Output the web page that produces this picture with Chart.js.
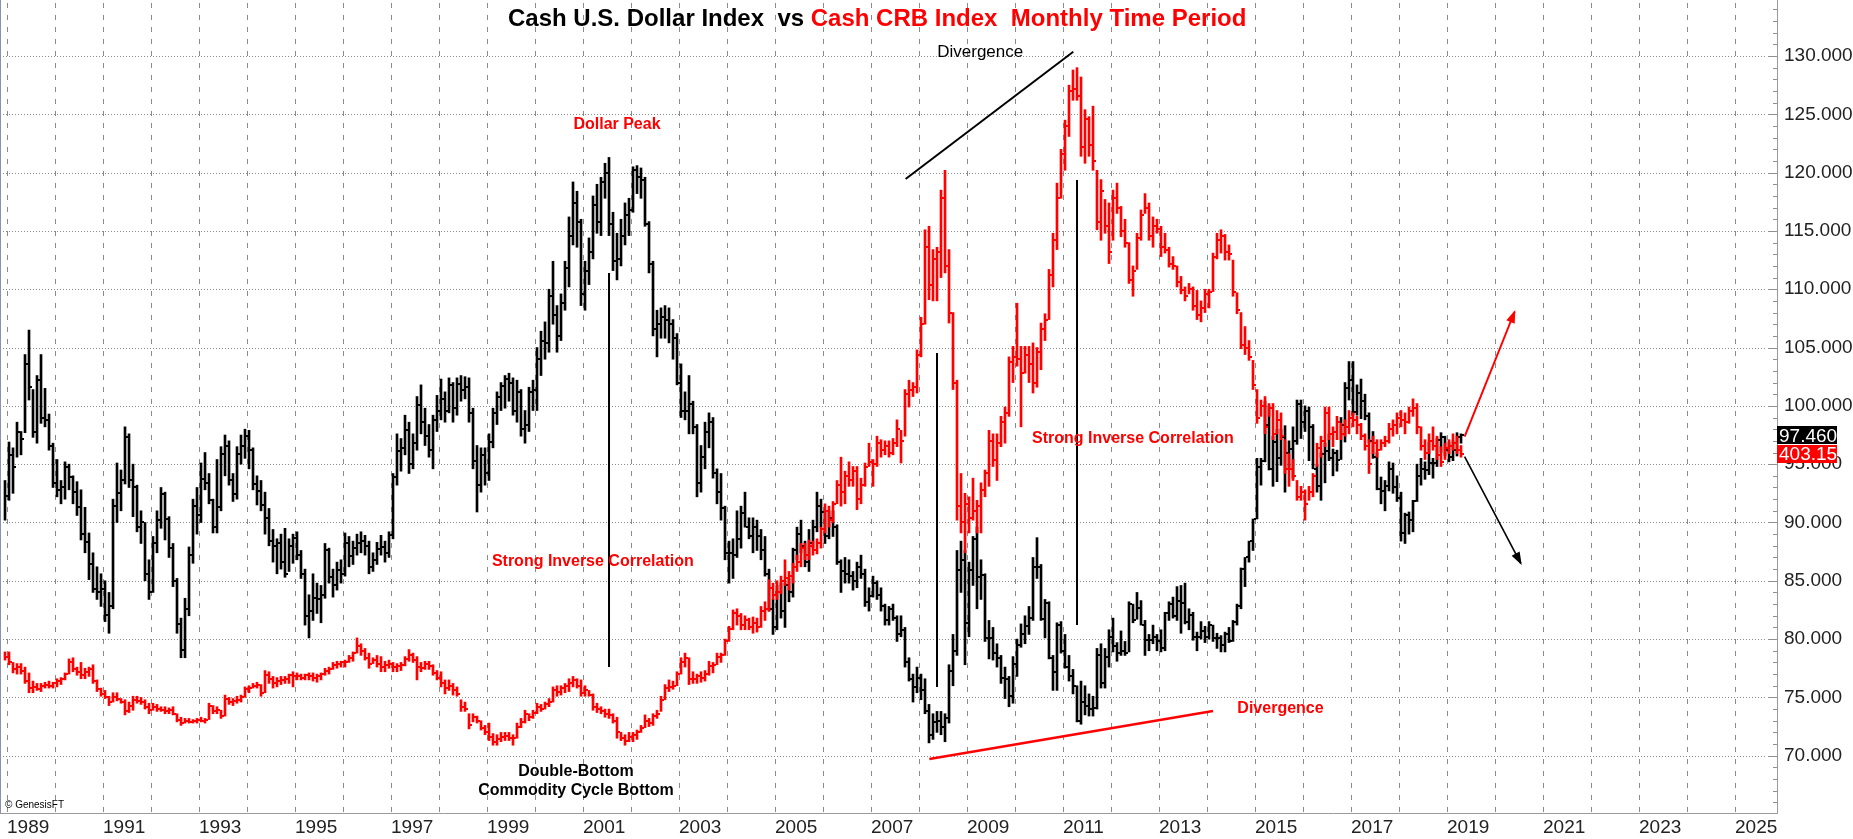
<!DOCTYPE html>
<html>
<head>
<meta charset="utf-8">
<title>Cash U.S. Dollar Index vs Cash CRB Index</title>
<script src="https://cdn.jsdelivr.net/npm/chart.js@4.4.1/dist/chart.umd.min.js"></script>
<style>
  html, body { margin: 0; padding: 0; background: #fff; }
  canvas { display: block; }
</style>
</head>
<body>
<canvas id="chart" width="1853" height="839"></canvas>
<script>
// Monthly bars: first bar is Dec 1988, last bar is Apr 2019
const firstYear = 1988;
const firstMonth = 11; // 0-based, December

// Cash U.S. Dollar Index (black), monthly high / low / close
const usdHigh = [
  93.6,
  96.9, 96.4, 98.6, 97.8, 104.4, 106.5, 101.4, 102.6, 104.4, 101.5, 99.3, 96.8,  // 1989
  95.4, 93.6, 95.2, 95.0, 94.0, 93.5, 92.8, 91.3, 89.1, 87.4, 86.2, 85.6,        // 1990
  85.0, 84.0, 92.0, 95.1, 94.5, 98.2, 97.6, 95.0, 93.2, 91.0, 90.0, 86.8,        // 1991
  88.8, 91.0, 93.0, 92.6, 90.5, 88.2, 85.2, 81.8, 83.5, 87.9, 92.0, 93.0,        // 1992
  95.1, 96.0, 94.2, 92.0, 95.4, 96.5, 97.5, 97.0, 94.2, 96.5, 97.5, 98.0,        // 1993
  97.9, 96.4, 94.0, 93.6, 92.6, 91.2, 89.4, 88.6, 89.0, 89.5, 88.6, 89.0,        // 1994
  89.2, 87.6, 86.0, 83.8, 85.6, 84.8, 84.6, 88.2, 87.8, 86.0, 86.6, 86.8,        // 1995
  89.1, 88.8, 88.4, 89.0, 89.2, 88.9, 88.4, 87.4, 88.3, 88.9, 88.4, 89.2,        // 1996
  94.2, 97.6, 97.2, 99.2, 98.6, 97.6, 100.8, 101.8, 99.8, 98.4, 99.2, 100.9,     // 1997
  102.3, 101.2, 102.4, 102.0, 102.4, 102.6, 102.5, 102.4, 99.8, 96.6, 96.4, 96.4, // 1998
  97.6, 99.8, 101.2, 102.0, 102.6, 102.8, 102.4, 102.2, 101.4, 99.6, 101.6, 102.2, // 1999
  105.0, 106.4, 107.2, 110.0, 112.4, 108.6, 109.6, 112.4, 116.2, 119.2, 118.4, 116.0, // 2000
  112.4, 114.4, 118.0, 119.0, 119.6, 120.8, 121.3, 116.6, 114.8, 116.0, 117.4, 117.8, // 2001
  120.5, 120.6, 120.4, 119.6, 115.8, 112.4, 108.2, 108.4, 108.6, 108.4, 107.4, 106.2, // 2002
  103.6, 101.2, 102.6, 100.4, 98.4, 96.6, 98.6, 99.4, 99.0, 94.6, 94.2, 91.4,    // 2003
  88.4, 88.6, 91.0, 91.4, 92.6, 90.4, 90.4, 90.2, 89.4, 88.8, 86.0, 83.4,        // 2004
  84.6, 84.8, 84.8, 85.2, 87.8, 89.6, 90.2, 88.4, 89.4, 90.2, 92.6, 92.0,        // 2005
  91.0, 91.0, 91.0, 89.8, 86.8, 87.0, 86.8, 85.8, 86.6, 87.2, 86.0, 84.4,        // 2006
  85.4, 85.0, 84.4, 83.0, 82.8, 83.0, 82.0, 82.0, 81.0, 78.4, 77.0, 77.6,        // 2007
  77.0, 76.6, 74.4, 73.6, 73.8, 73.8, 73.6, 77.8, 80.4, 87.6, 88.4, 87.6,        // 2008
  86.6, 88.8, 89.6, 86.8, 85.6, 81.6, 81.0, 79.6, 78.6, 77.6, 76.8, 78.5,        // 2009
  80.0, 81.3, 82.0, 82.8, 87.0, 88.7, 86.4, 83.4, 83.2, 78.6, 81.4, 81.5,        // 2010
  80.4, 78.6, 77.4, 76.0, 76.4, 76.0, 75.3, 75.1, 79.2, 79.6, 79.2, 80.8,        // 2011
  81.8, 79.7, 80.7, 79.8, 83.2, 83.0, 84.0, 83.3, 81.6, 80.4, 81.2, 80.4,        // 2012
  80.8, 82.3, 83.2, 83.6, 84.5, 84.6, 84.8, 82.6, 82.3, 80.6, 81.5, 81.1,        // 2013
  81.5, 81.2, 80.5, 80.3, 80.6, 81.0, 81.6, 83.0, 86.1, 87.0, 88.4, 90.3,        // 2014
  95.5, 95.5, 100.4, 100.0, 97.4, 98.0, 98.0, 98.3, 97.0, 98.2, 100.5, 100.5,    // 2015
  100.0, 99.9, 98.4, 95.0, 96.0, 96.8, 97.6, 96.3, 96.2, 99.0, 102.0, 103.8,     // 2016
  103.8, 101.8, 102.3, 101.0, 99.4, 97.8, 96.0, 93.9, 93.6, 95.2, 95.1, 94.0,    // 2017
  92.6, 90.8, 90.9, 91.9, 95.0, 95.5, 95.2, 96.9, 95.5, 97.2, 97.7, 97.4,        // 2018
  96.9, 97.0, 97.7, 97.6                                                          // 2019
];
const usdLow = [
  90.2,
  91.9, 92.5, 95.6, 95.8, 97.7, 100.5, 97.3, 96.8, 98.5, 98.2, 96.2, 93.0,
  92.2, 91.6, 92.0, 92.8, 91.6, 90.6, 88.5, 87.4, 85.1, 84.0, 83.4, 82.8,
  81.5, 80.5, 82.6, 90.0, 91.0, 93.3, 93.0, 90.5, 89.2, 88.2, 85.0, 83.4,
  84.0, 87.4, 89.5, 88.5, 87.0, 84.5, 80.5, 78.4, 78.4, 82.0, 86.5, 89.0,
  90.0, 92.8, 91.6, 89.1, 89.1, 91.0, 94.0, 93.2, 91.8, 92.0, 95.0, 95.5,
  94.6, 92.8, 91.5, 91.0, 89.0, 88.0, 86.6, 85.6, 86.0, 85.3, 85.8, 86.5,
  86.8, 85.2, 81.2, 80.1, 81.6, 82.2, 81.4, 83.5, 84.8, 83.6, 84.2, 84.8,
  85.4, 86.2, 86.4, 87.2, 87.4, 87.2, 85.6, 85.8, 86.4, 87.2, 86.6, 87.0,
  88.6, 93.2, 94.4, 95.8, 94.2, 94.6, 96.2, 97.6, 96.6, 95.6, 94.6, 97.8,
  98.8, 98.6, 99.4, 98.6, 99.2, 100.4, 100.6, 98.6, 94.6, 90.9, 92.6, 93.2,
  93.6, 96.4, 98.4, 99.6, 99.8, 100.4, 99.2, 98.6, 97.4, 96.8, 97.8, 99.6,
  99.6, 102.6, 104.0, 104.6, 107.0, 104.6, 105.6, 108.2, 110.2, 113.8, 113.6, 108.6,
  108.2, 110.4, 112.6, 114.8, 114.6, 117.8, 114.6, 111.6, 110.8, 112.0, 113.8, 114.6,
  116.6, 118.2, 117.8, 115.4, 111.4, 106.0, 104.2, 105.8, 105.8, 105.4, 104.0, 101.8,
  99.0, 98.8, 97.6, 97.6, 92.2, 92.6, 94.6, 96.4, 93.8, 91.6, 90.2, 86.8,
  84.8, 85.2, 87.0, 87.8, 89.6, 88.6, 87.4, 87.6, 86.8, 85.4, 82.4, 80.4,
  80.8, 81.8, 81.0, 83.2, 83.6, 86.8, 87.4, 86.2, 85.8, 87.8, 89.2, 89.6,
  88.2, 88.6, 88.8, 86.4, 84.0, 84.8, 84.8, 84.2, 84.4, 85.2, 82.8, 82.4,
  83.6, 83.4, 82.4, 81.2, 81.2, 81.6, 79.8, 80.2, 77.6, 76.4, 74.6, 75.4,
  74.8, 73.6, 71.1, 71.4, 72.0, 71.8, 71.2, 72.8, 76.0, 78.6, 84.0, 77.8,
  80.2, 84.6, 82.6, 83.4, 79.8, 78.3, 78.2, 77.6, 76.2, 74.9, 74.2, 74.5,
  76.8, 79.3, 79.6, 80.4, 81.6, 85.2, 81.6, 80.1, 78.3, 75.6, 75.6, 78.8,
  77.5, 76.4, 75.3, 72.9, 72.7, 73.5, 73.4, 73.4, 74.0, 75.8, 75.8, 77.6,
  78.9, 78.1, 78.6, 78.6, 78.9, 81.4, 81.7, 81.2, 78.6, 79.0, 79.6, 79.0,
  78.9, 79.0, 81.6, 81.8, 81.6, 80.5, 81.3, 80.8, 79.9, 79.0, 80.0, 79.7,
  80.0, 79.8, 79.2, 78.9, 78.9, 79.7, 79.8, 81.2, 82.6, 84.5, 86.6, 87.6,
  90.3, 93.2, 95.2, 94.5, 93.1, 93.5, 94.9, 92.6, 94.6, 93.8, 96.7, 97.2,
  97.8, 95.3, 94.6, 92.6, 91.9, 93.4, 95.3, 94.0, 94.4, 95.4, 96.9, 100.5,
  99.2, 99.2, 98.9, 98.8, 96.8, 95.5, 92.8, 91.6, 91.0, 92.7, 92.5, 91.8,
  88.4, 88.2, 89.0, 89.2, 91.8, 93.2, 93.7, 94.1, 93.8, 94.8, 96.0, 95.7,
  95.2, 95.3, 95.7, 96.8
];
const usdClose = [
  92.3,
  95.8, 94.8, 97.8, 97.2, 103.6, 101.6, 97.8, 102.2, 99.0, 98.8, 96.6, 93.4,
  92.8, 93.0, 94.8, 93.9, 92.6, 91.3, 89.0, 88.3, 86.4, 84.3, 84.0, 84.3,
  82.1, 82.8, 91.4, 92.5, 93.6, 97.3, 93.6, 93.0, 89.6, 90.0, 85.6, 84.0,
  88.2, 90.2, 92.4, 90.3, 87.8, 85.0, 81.3, 79.1, 82.6, 87.2, 91.4, 90.6,
  93.7, 93.4, 91.9, 89.6, 91.3, 95.9, 96.6, 93.6, 92.4, 95.9, 96.6, 97.4,
  96.2, 93.3, 92.7, 91.5, 90.4, 88.4, 88.0, 88.2, 86.6, 85.6, 88.0, 88.7,
  87.2, 85.6, 82.0, 82.4, 83.5, 83.4, 83.8, 87.6, 85.3, 84.6, 85.9, 85.6,
  88.2, 87.1, 87.8, 88.2, 88.4, 88.0, 86.2, 86.8, 87.7, 87.9, 87.4, 88.9,
  93.9, 96.1, 96.4, 97.9, 95.0, 96.8, 100.1, 98.6, 97.4, 96.2, 98.8, 99.6,
  100.6, 99.6, 101.8, 99.8, 101.9, 101.4, 101.6, 99.4, 95.3, 93.2, 95.8, 94.2,
  96.9, 99.4, 100.8, 101.7, 102.3, 102.0, 99.6, 101.2, 98.0, 98.4, 101.2, 101.4,
  104.0, 105.6, 105.4, 109.4, 107.8, 106.0, 108.8, 111.8, 114.6, 117.4, 115.8, 109.6,
  111.6, 113.2, 117.2, 115.8, 119.2, 120.0, 115.6, 112.4, 112.6, 114.6, 116.4, 116.8,
  120.2, 119.6, 119.4, 115.6, 112.2, 106.6, 107.0, 107.6, 107.4, 107.0, 105.8, 102.0,
  99.6, 99.6, 100.2, 98.2, 93.4, 95.6, 97.8, 98.6, 94.2, 92.6, 91.2, 87.4,
  87.4, 87.2, 88.6, 90.8, 89.6, 88.8, 89.6, 88.8, 87.6, 85.6, 82.6, 81.0,
  84.0, 82.4, 84.6, 84.0, 87.6, 89.0, 88.0, 86.6, 88.2, 89.6, 91.4, 90.9,
  88.8, 90.4, 89.6, 86.6, 85.8, 85.6, 85.4, 85.0, 86.2, 85.6, 83.2, 83.7,
  84.8, 83.8, 82.8, 81.6, 82.6, 81.8, 80.4, 80.8, 78.0, 76.6, 75.9, 76.7,
  75.6, 73.8, 71.8, 72.9, 73.0, 72.5, 73.2, 77.3, 79.0, 85.9, 86.8, 81.4,
  85.9, 88.6, 85.3, 85.5, 80.1, 80.1, 78.8, 78.4, 76.7, 76.6, 75.1, 77.9,
  79.5, 80.4, 81.1, 81.8, 86.2, 86.2, 81.7, 83.1, 78.4, 77.2, 81.2, 79.0,
  77.6, 76.8, 76.0, 73.0, 74.6, 74.3, 74.0, 74.1, 78.6, 76.2, 78.5, 80.2,
  79.4, 78.8, 79.0, 78.8, 83.0, 81.6, 82.7, 81.2, 79.9, 79.9, 80.2, 79.8,
  79.2, 82.2, 83.0, 82.0, 83.3, 83.1, 81.5, 82.1, 80.2, 80.2, 80.7, 80.2,
  81.2, 80.1, 80.1, 79.5, 80.4, 79.8, 81.5, 82.8, 86.0, 87.0, 88.4, 90.3,
  94.8, 95.3, 98.4, 94.6, 96.9, 95.5, 97.3, 96.0, 96.3, 97.0, 100.2, 98.6,
  99.6, 98.2, 94.6, 93.1, 95.9, 96.1, 95.5, 96.0, 95.4, 98.4, 101.5, 102.2,
  99.5, 101.1, 100.4, 99.1, 97.0, 95.6, 92.9, 92.7, 93.1, 94.6, 93.0, 92.1,
  89.1, 90.6, 90.2, 91.8, 94.0, 94.6, 94.5, 95.1, 95.1, 97.1, 97.3, 96.2,
  95.6, 96.2, 97.3, 97.46
];

// Cash CRB Index (red), overlaid on the dollar scale, monthly high / low / close
const crbHigh = [
  78.9,
  78.9, 78.0, 77.9, 77.9, 77.6, 77.1, 76.4, 76.2, 76.2, 76.3, 76.4, 76.3,
  76.6, 76.7, 77.1, 78.3, 78.4, 77.6, 78.0, 77.5, 77.6, 77.8, 76.5, 75.8,
  75.6, 75.1, 75.4, 75.4, 74.9, 74.8, 74.6, 75.1, 75.1, 75.0, 74.8, 74.5,
  74.5, 74.4, 74.2, 74.2, 74.1, 74.2, 73.6, 73.3, 73.2, 73.2, 73.1, 73.2,
  73.3, 73.2, 74.5, 74.3, 74.2, 73.9, 75.2, 75.0, 74.9, 75.1, 75.2, 75.9,
  76.0, 76.2, 76.3, 76.1, 77.3, 77.2, 76.8, 76.7, 76.8, 76.8, 77.0, 77.2,
  77.1, 77.0, 77.0, 77.1, 77.1, 77.0, 77.1, 77.5, 77.6, 78.0, 78.1, 78.1,
  78.2, 78.6, 78.9, 80.1, 79.6, 79.2, 78.8, 78.4, 78.6, 78.5, 78.1, 78.2,
  78.0, 77.9, 78.0, 78.5, 79.1, 78.8, 78.5, 78.0, 78.1, 78.1, 77.8, 77.3,
  77.2, 76.5, 76.5, 76.2, 75.9, 74.8, 74.6, 73.6, 73.6, 73.4, 73.0, 72.6,
  72.8, 71.9, 71.8, 72.0, 72.0, 72.0, 71.8, 72.8, 73.2, 73.9, 73.6, 73.9,
  74.5, 74.4, 74.6, 74.9, 75.9, 76.0, 76.0, 76.2, 76.6, 76.8, 76.6, 76.5,
  76.0, 75.6, 75.3, 74.5, 74.2, 74.0, 74.0, 73.6, 73.3, 72.0, 71.8, 72.0,
  72.0, 72.2, 72.6, 73.5, 73.2, 73.6, 73.9, 75.1, 76.1, 76.5, 76.4, 77.2,
  78.4, 78.8, 78.4, 77.2, 77.0, 77.2, 77.3, 78.1, 78.0, 78.8, 78.8, 80.0,
  81.1, 82.5, 82.6, 82.2, 82.0, 81.8, 81.9, 81.8, 82.8, 83.2, 85.1, 84.8,
  85.0, 85.4, 86.8, 85.8, 86.5, 87.2, 88.2, 88.2, 88.5, 88.4, 88.6, 89.6,
  91.6, 91.4, 91.8, 93.6, 95.6, 94.4, 95.2, 94.8, 94.8, 93.8, 95.1, 96.8,
  95.4, 97.4, 97.1, 97.0, 97.0, 97.2, 98.8, 97.9, 101.4, 102.2, 102.0, 104.8,
  107.6, 115.1, 115.4, 113.4, 113.6, 118.5, 120.2, 113.4, 108.0, 102.2, 94.2, 92.5,
  92.2, 93.8, 91.9, 93.4, 94.5, 97.9, 97.6, 97.6, 99.1, 99.9, 104.2, 105.1,
  108.8, 105.1, 105.1, 105.1, 105.4, 105.0, 107.1, 107.9, 111.7, 114.8, 119.1, 122.0,
  124.5, 127.5, 128.8, 129.0, 128.2, 125.4, 124.8, 125.7, 120.2, 119.4, 117.7, 117.4,
  118.5, 119.1, 117.1, 116.0, 114.0, 112.0, 114.8, 116.8, 118.2, 117.4, 116.2, 116.0,
  115.4, 114.8, 113.6, 112.8, 112.0, 111.1, 110.2, 110.5, 110.2, 109.9, 109.0, 110.0,
  110.0, 113.1, 114.8, 115.1, 114.7, 113.8, 112.5, 109.7, 108.0, 106.8, 105.6, 103.9,
  101.4, 100.5, 100.8, 100.2, 100.2, 99.6, 99.4, 97.1, 95.9, 95.4, 93.6, 93.1,
  92.8, 93.1, 94.2, 96.8, 97.4, 99.9, 99.9, 98.2, 99.1, 98.5, 98.8, 99.6,
  99.4, 99.1, 98.5, 97.6, 97.1, 97.4, 97.1, 97.1, 97.4, 98.5, 98.8, 99.4,
  99.6, 99.4, 99.9, 100.6, 100.2, 98.2, 97.1, 97.6, 98.2, 97.4, 96.5, 96.8,
  97.1, 97.6, 97.4, 96.6
];
const crbLow = [
  78.2,
  77.8, 77.1, 77.0, 77.0, 76.2, 75.4, 75.4, 75.6, 75.5, 75.8, 75.8, 75.8,
  75.9, 76.1, 76.5, 77.0, 77.2, 76.9, 76.6, 76.6, 76.8, 76.2, 75.5, 75.1,
  74.9, 74.3, 74.6, 74.7, 74.5, 73.5, 73.7, 73.9, 74.5, 74.4, 74.0, 73.6,
  73.9, 73.8, 73.8, 73.6, 73.6, 73.5, 72.9, 72.6, 72.8, 72.8, 72.8, 72.8,
  72.9, 72.8, 73.1, 73.6, 73.6, 73.2, 73.4, 74.4, 74.3, 74.5, 74.6, 75.0,
  75.4, 75.8, 75.8, 75.1, 75.4, 76.2, 75.8, 75.9, 76.1, 76.2, 76.2, 75.9,
  76.5, 76.5, 76.5, 76.5, 76.4, 76.3, 76.5, 76.9, 77.0, 77.4, 77.5, 77.6,
  77.6, 78.0, 78.1, 78.8, 78.6, 78.2, 77.5, 77.9, 77.6, 77.2, 77.2, 77.5,
  77.2, 77.2, 77.3, 77.7, 78.1, 78.0, 76.5, 77.2, 77.4, 77.4, 76.9, 76.5,
  75.9, 75.3, 75.6, 75.2, 75.1, 73.8, 73.8, 72.3, 72.9, 72.8, 72.2, 71.8,
  71.3, 70.9, 70.9, 71.2, 71.3, 71.3, 70.9, 71.5, 72.4, 72.8, 73.0, 73.2,
  73.6, 73.8, 74.0, 74.2, 74.6, 75.1, 75.2, 75.4, 75.5, 75.9, 75.8, 75.1,
  75.1, 75.1, 73.9, 73.7, 73.6, 73.3, 73.2, 72.8, 71.5, 71.3, 70.9, 71.2,
  71.2, 71.4, 72.0, 72.4, 72.5, 72.6, 73.2, 73.8, 74.8, 75.5, 75.7, 76.0,
  77.0, 77.6, 76.1, 76.2, 76.2, 76.3, 76.4, 76.9, 77.1, 77.8, 78.0, 78.6,
  79.8, 80.8, 81.2, 80.8, 80.8, 80.8, 80.5, 80.6, 81.0, 81.6, 82.4, 83.4,
  83.4, 83.9, 84.6, 84.2, 84.8, 85.8, 86.2, 86.8, 86.8, 87.2, 87.3, 87.8,
  89.1, 89.6, 90.0, 91.6, 91.4, 91.6, 93.1, 93.1, 91.1, 91.6, 93.1, 94.8,
  93.1, 94.8, 95.6, 95.8, 95.6, 95.8, 96.5, 95.1, 97.4, 99.9, 100.8, 101.1,
  104.2, 107.0, 109.1, 109.0, 109.0, 111.0, 111.4, 107.1, 101.4, 90.2, 89.1, 87.4,
  89.1, 90.2, 89.1, 89.1, 92.2, 93.1, 94.8, 93.6, 96.5, 96.8, 99.1, 102.0,
  103.4, 98.2, 102.8, 102.0, 101.1, 101.6, 103.1, 105.6, 107.4, 110.2, 113.4, 117.8,
  120.2, 123.1, 126.2, 126.2, 121.4, 120.8, 121.4, 120.2, 115.1, 114.2, 114.8, 112.2,
  114.2, 116.5, 114.5, 113.6, 110.5, 109.4, 111.7, 114.2, 116.5, 114.2, 113.6, 114.8,
  112.8, 113.1, 111.9, 111.7, 110.2, 109.6, 109.0, 109.6, 108.2, 107.4, 107.2, 108.0,
  108.4, 109.8, 112.6, 113.1, 112.5, 112.5, 109.4, 107.9, 104.9, 104.4, 103.9, 101.4,
  98.5, 99.1, 97.6, 99.1, 97.1, 97.6, 97.1, 94.2, 93.1, 93.6, 91.9, 91.9,
  90.2, 91.9, 92.2, 94.8, 95.6, 96.5, 97.1, 96.5, 97.1, 97.1, 97.4, 97.6,
  98.2, 97.6, 97.1, 96.2, 94.2, 95.9, 95.6, 96.2, 96.5, 96.8, 97.4, 97.6,
  98.2, 97.6, 98.5, 99.1, 97.6, 96.2, 95.4, 95.9, 96.2, 95.4, 94.8, 95.4,
  95.9, 96.2, 95.9, 95.6
];
const crbClose = [
  78.5,
  78.0, 77.4, 77.6, 77.3, 76.4, 75.8, 75.9, 75.7, 76.0, 76.1, 76.0, 76.2,
  76.4, 76.6, 77.0, 78.0, 77.4, 77.2, 76.9, 77.2, 77.4, 76.4, 75.7, 75.3,
  75.0, 74.6, 75.0, 74.9, 74.6, 73.8, 74.3, 74.8, 74.7, 74.6, 74.2, 73.9,
  74.2, 74.0, 73.9, 73.8, 73.9, 73.6, 73.1, 72.8, 73.0, 72.9, 73.0, 73.1,
  73.0, 73.1, 74.3, 73.8, 73.9, 73.4, 74.9, 74.6, 74.7, 74.8, 75.0, 75.7,
  75.8, 76.0, 76.1, 75.4, 76.9, 76.6, 76.2, 76.4, 76.5, 76.6, 76.9, 76.8,
  76.8, 76.7, 76.9, 76.8, 76.7, 76.8, 77.0, 77.3, 77.4, 77.8, 77.9, 78.0,
  78.0, 78.4, 78.8, 79.4, 79.0, 78.4, 77.9, 78.2, 77.9, 77.6, 77.8, 77.9,
  77.6, 77.7, 77.8, 78.3, 78.6, 78.2, 77.6, 77.5, 77.9, 77.7, 77.1, 76.7,
  76.2, 75.8, 76.0, 75.6, 75.3, 74.2, 74.0, 72.6, 73.3, 73.0, 72.4, 72.0,
  71.6, 71.2, 71.4, 71.6, 71.7, 71.5, 71.5, 72.5, 72.9, 73.6, 73.3, 73.7,
  74.2, 74.0, 74.4, 74.6, 75.6, 75.5, 75.8, 76.0, 76.2, 76.5, 76.0, 75.4,
  75.6, 75.2, 74.2, 74.0, 73.8, 73.6, 73.5, 73.0, 72.0, 71.5, 71.3, 71.6,
  71.8, 72.0, 72.4, 73.0, 72.8, 73.4, 73.6, 74.8, 75.8, 75.9, 76.0, 77.0,
  78.0, 78.4, 76.6, 76.6, 76.8, 76.7, 77.0, 77.7, 77.8, 78.5, 78.6, 79.8,
  80.9, 82.2, 82.0, 81.2, 81.6, 81.0, 81.4, 81.0, 82.4, 82.6, 84.4, 83.8,
  84.0, 85.0, 85.2, 85.4, 86.2, 86.6, 87.8, 87.2, 88.0, 87.6, 88.2, 89.4,
  91.0, 90.2, 91.6, 93.2, 92.6, 94.0, 93.6, 94.4, 92.0, 93.2, 94.8, 95.2,
  95.0, 96.8, 96.2, 96.6, 96.0, 96.8, 98.0, 97.0, 101.0, 101.4, 101.6, 104.4,
  107.0, 113.6, 110.4, 112.6, 113.2, 117.8, 112.0, 108.0, 102.0, 91.4, 90.0, 91.6,
  90.4, 91.0, 91.4, 92.8, 94.2, 97.0, 95.4, 96.8, 98.6, 99.4, 103.8, 104.2,
  104.0, 102.8, 104.4, 103.6, 102.0, 104.6, 106.6, 107.4, 111.2, 114.2, 117.8, 121.6,
  124.0, 127.0, 127.2, 126.6, 122.2, 124.6, 122.4, 121.0, 115.8, 118.4, 115.4, 113.2,
  117.8, 117.0, 115.0, 114.0, 110.8, 111.6, 114.4, 116.4, 117.0, 114.6, 115.4, 115.2,
  113.6, 113.4, 112.2, 112.0, 110.6, 109.9, 109.4, 110.0, 108.6, 107.8, 108.4, 109.6,
  109.8, 112.8, 114.2, 114.6, 113.2, 113.0, 109.8, 108.2, 105.2, 105.0, 104.2, 101.8,
  99.0, 100.0, 98.2, 99.8, 97.6, 98.8, 97.4, 94.6, 94.6, 94.0, 92.2, 92.6,
  91.6, 92.6, 94.0, 96.4, 97.0, 99.4, 97.6, 97.8, 98.6, 97.6, 98.2, 99.0,
  98.8, 98.4, 97.4, 96.6, 95.0, 96.8, 96.2, 96.8, 97.0, 98.0, 98.4, 99.0,
  98.8, 98.6, 99.6, 99.8, 98.2, 96.6, 96.0, 97.0, 96.6, 95.8, 95.2, 96.4,
  96.6, 96.8, 96.2, 95.9
];
// last CRB print shown in the red price tag (CRB units)
const crbLastLabel = '403.15';

// axis ranges and tick spacing
const xMin = 1988.854, xMax = 2025.875;
const yMin = 65.088, yMax = 134.802;
const yStep = 5;

// drawn annotation lines (data units)
const annoLines = [
  { from: [2001.542, 111.39], to: [2001.542, 77.61], color: '#000000', width: 2 },
  { from: [2008.375, 104.53], to: [2008.375, 75.89], color: '#000000', width: 2 },
  { from: [2011.292, 119.37], to: [2011.292, 81.21], color: '#000000', width: 2 },
  { from: [2007.721, 119.45], to: [2011.214, 130.37], color: '#000000', width: 2 },
  { from: [2008.216, 69.72], to: [2014.125, 73.83], color: '#ff0000', width: 2.5 },
  { from: [2019.367, 97.36], to: [2020.408, 108.07], color: '#ff0000', width: 2, arrow: true },
  { from: [2019.367, 95.64], to: [2020.537, 86.50], color: '#000000', width: 1.6, arrow: true }
];

// text notes, anchored at centre / baseline (data units)
const notes = [
  { text: 'Divergence', x: 2009.275, y: 129.94, color: '#000000', weight: 'normal', size: 17 },
  { text: 'Dollar Peak', x: 2001.708, y: 123.71, color: '#ff0000', weight: 'bold', size: 16 },
  { text: 'Strong Inverse Correlation', x: 2001.204, y: 86.27, color: '#ff0000', weight: 'bold', size: 16 },
  { text: 'Strong Inverse Correlation', x: 2012.458, y: 96.84, color: '#ff0000', weight: 'bold', size: 16 },
  { text: 'Divergence', x: 2015.531, y: 73.64, color: '#ff0000', weight: 'bold', size: 16 },
  { text: 'Double-Bottom', x: 2000.854, y: 68.26, color: '#000000', weight: 'bold', size: 16 },
  { text: 'Commodity Cycle Bottom', x: 2000.854, y: 66.63, color: '#000000', weight: 'bold', size: 16 }
];

const FONT = "'Liberation Sans', Arial, sans-serif";

// month centres on the time axis
const monthTimes = usdHigh.map((_, i) => firstYear + (firstMonth + i + 0.5) / 12);
const usdBars = monthTimes.map((t, i) => ({ x: t, y: [usdLow[i], usdHigh[i]] }));
const crbBars = monthTimes.map((t, i) => ({ x: t, y: [crbLow[i], crbHigh[i]] }));

const lineSets = annoLines.map(l => ({
  type: 'line',
  data: [{ x: l.from[0], y: l.from[1] }, { x: l.to[0], y: l.to[1] }],
  borderColor: l.color,
  backgroundColor: l.color,
  borderWidth: l.width,
  pointRadius: 0,
  tension: 0,
  fill: false,
  order: 0,
  arrow: !!l.arrow
}));

// close tick on the right of each bar
const closeTicks = {
  id: 'closeTicks',
  afterDatasetDraw(chart, args) {
    const ds = chart.data.datasets[args.index];
    if (!ds.closes) return;
    const { ctx, chartArea: a } = chart;
    const y = chart.scales.y;
    ctx.save();
    ctx.beginPath();
    ctx.rect(a.left, a.top, a.right - a.left, a.bottom - a.top);
    ctx.clip();
    ctx.strokeStyle = ds.backgroundColor;
    ctx.lineWidth = 2;
    ctx.beginPath();
    args.meta.data.forEach((bar, i) => {
      const py = Math.round(y.getPixelForValue(ds.closes[i]));
      ctx.moveTo(bar.x + 1, py);
      ctx.lineTo(bar.x + 3, py);
    });
    ctx.stroke();
    ctx.restore();
  }
};

// dotted / dashed grid and the small ticks along the price axis
const refGrid = {
  id: 'refGrid',
  beforeDatasetsDraw(chart) {
    const { ctx, chartArea: a, scales: { x, y } } = chart;
    ctx.save();
    ctx.lineWidth = 1;
    ctx.strokeStyle = '#8c8c8c';
    ctx.setLineDash([1, 2]);
    y.ticks.forEach(t => {
      const py = Math.round(y.getPixelForValue(t.value)) + 0.5;
      ctx.beginPath(); ctx.moveTo(a.left, py); ctx.lineTo(a.right - 10, py); ctx.stroke();
    });
    ctx.strokeStyle = '#8a8a8a';
    ctx.setLineDash([5, 7]);
    x.ticks.forEach(t => {
      const px = Math.round(x.getPixelForValue(t.value)) + 0.5;
      ctx.beginPath(); ctx.moveTo(px, a.top + 3); ctx.lineTo(px, a.bottom); ctx.stroke();
    });
    ctx.setLineDash([]);
    ctx.strokeStyle = '#909090';
    for (let v = Math.ceil(y.min); v <= y.max; v++) {
      const py = Math.round(y.getPixelForValue(v)) + 0.5;
      const len = v % yStep === 0 ? 9 : 4;
      ctx.beginPath(); ctx.moveTo(a.right - len, py); ctx.lineTo(a.right, py); ctx.stroke();
    }
    // left frame
    ctx.strokeStyle = '#8a90b0';
    ctx.beginPath(); ctx.moveTo(a.left + 0.5, a.top); ctx.lineTo(a.left + 0.5, a.bottom); ctx.stroke();
    ctx.restore();
  }
};

// arrow heads, notes, title, price tags
const overlays = {
  id: 'overlays',
  afterDatasetsDraw(chart) {
    const { ctx, scales: { x, y } } = chart;
    ctx.save();
    chart.data.datasets.forEach((ds, i) => {
      if (!ds.arrow) return;
      const pts = chart.getDatasetMeta(i).data;
      const p0 = pts[0], p1 = pts[1];
      const ang = Math.atan2(p1.y - p0.y, p1.x - p0.x);
      const len = 11, half = 4.5;
      ctx.fillStyle = ds.borderColor;
      ctx.beginPath();
      ctx.moveTo(p1.x + Math.cos(ang) * 2, p1.y + Math.sin(ang) * 2);
      ctx.lineTo(p1.x - Math.cos(ang) * len - Math.sin(ang) * half, p1.y - Math.sin(ang) * len + Math.cos(ang) * half);
      ctx.lineTo(p1.x - Math.cos(ang) * len + Math.sin(ang) * half, p1.y - Math.sin(ang) * len - Math.cos(ang) * half);
      ctx.closePath();
      ctx.fill();
    });
    ctx.textAlign = 'center';
    ctx.textBaseline = 'alphabetic';
    notes.forEach(n => {
      ctx.font = n.weight + ' ' + n.size + 'px ' + FONT;
      ctx.fillStyle = n.color;
      ctx.fillText(n.text, x.getPixelForValue(n.x), y.getPixelForValue(n.y));
    });
    ctx.restore();
  },
  afterDraw(chart) {
    const { ctx, chartArea: a, scales: { y } } = chart;
    ctx.save();
    // title
    ctx.textAlign = 'left';
    ctx.textBaseline = 'alphabetic';
    ctx.font = 'bold 24px ' + FONT;
    const part1 = 'Cash U.S. Dollar Index  vs ';
    const part2 = 'Cash CRB Index  Monthly Time Period';
    ctx.fillStyle = '#000000';
    ctx.fillText(part1, 508, 25.5);
    ctx.fillStyle = '#ff0000';
    ctx.fillText(part2, 508 + ctx.measureText(part1).width, 25.5);
    // copyright
    ctx.font = '10px ' + FONT;
    ctx.fillStyle = '#000000';
    ctx.fillText('\u00A9 GenesisFT', 5, 808);
    // price tags
    ctx.font = '19px ' + FONT;
    ctx.textBaseline = 'middle';
    const tags = [
      { value: usdClose[usdClose.length - 1], text: usdClose[usdClose.length - 1].toFixed(3), bg: '#000000' },
      { value: crbClose[crbClose.length - 1], text: crbLastLabel, bg: '#ff0000' }
    ];
    tags.forEach(t => {
      const py = y.getPixelForValue(t.value);
      ctx.fillStyle = t.bg;
      ctx.fillRect(a.right, Math.round(py - 9), 60, 18);
      ctx.fillStyle = '#ffffff';
      ctx.fillText(t.text, a.right + 2, py + 1);
    });
    ctx.restore();
  }
};

const chart = new Chart(document.getElementById('chart'), {
  type: 'bar',
  data: {
    datasets: [
      ...lineSets,
      { type: 'bar', label: 'Cash CRB Index', data: crbBars, closes: crbClose,
        backgroundColor: '#ff0000', borderWidth: 0, barThickness: 2, grouped: false, order: 1 },
      { type: 'bar', label: 'Cash U.S. Dollar Index', data: usdBars, closes: usdClose,
        backgroundColor: '#000000', borderWidth: 0, barThickness: 2, grouped: false, order: 2 }
    ]
  },
  options: {
    responsive: false,
    animation: false,
    events: [],
    layout: { padding: 0 },
    plugins: { legend: { display: false }, tooltip: { enabled: false }, title: { display: false } },
    scales: {
      x: {
        type: 'linear',
        min: xMin,
        max: xMax,
        offset: false,
        grid: { display: false, drawTicks: false, tickLength: 0 },
        border: { display: true, color: '#9a9a9a', width: 1 },
        ticks: {
          stepSize: 1,
          includeBounds: false,
          autoSkip: false,
          maxRotation: 0,
          align: 'start',
          padding: 3,
          color: '#222222',
          font: { family: FONT, size: 19 },
          callback: v => (v % 2 === 1 ? String(v) : '')
        },
        afterFit: s => { s.height = 26; s.paddingLeft = 0; s.paddingRight = 0; s.paddingTop = 0; s.paddingBottom = 0; }
      },
      y: {
        position: 'right',
        min: yMin,
        max: yMax,
        beginAtZero: false,
        grid: { display: false, drawTicks: false, tickLength: 0 },
        border: { display: true, color: '#9a9a9a', width: 1 },
        ticks: {
          stepSize: yStep,
          includeBounds: false,
          autoSkip: false,
          padding: 7,
          color: '#222222',
          font: { family: FONT, size: 19 },
          callback: v => v.toFixed(3)
        },
        afterFit: s => { s.width = 76; s.paddingLeft = 0; s.paddingRight = 0; s.paddingTop = 0; s.paddingBottom = 0; }
      }
    }
  },
  plugins: [refGrid, closeTicks, overlays]
});
</script>
</body>
</html>
